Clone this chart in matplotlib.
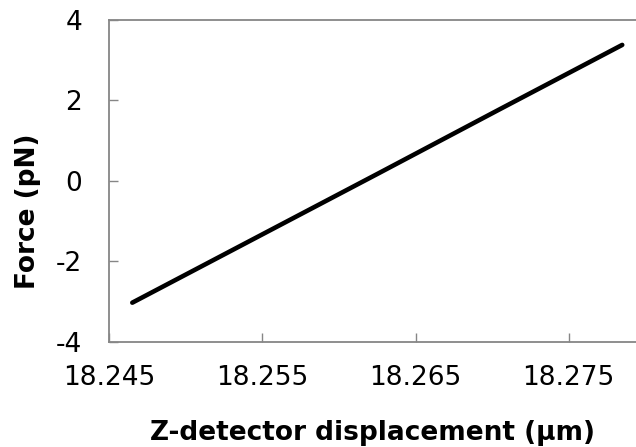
import matplotlib.pyplot as plt

# Force vs Z-detector displacement
z_um = [18.2465, 18.2545, 18.2625, 18.2705, 18.2785]
force_pN = [-3.03, -1.43, 0.17, 1.78, 3.38]

x_ticks = [18.245, 18.255, 18.265, 18.275]
y_ticks = [-4, -2, 0, 2, 4]

plt.rcParams['font.family'] = ['DejaVu Sans']
plt.rcParams['axes.unicode_minus'] = False

fig = plt.figure(figsize=(6.36, 4.47), dpi=100)
ax = fig.add_axes([0.1719, 0.2356, 1 - 0.1719, 0.9553 - 0.2356])

ax.plot(z_um, force_pN, color='black', linewidth=3.3, solid_capstyle='round')

ax.set_xlim(18.245, 18.2794)
ax.set_ylim(-4, 4)
ax.set_xticks(x_ticks)
ax.set_xticklabels([f"{v:.3f}" for v in x_ticks])
ax.set_yticks(y_ticks)

grey = '#868686'
for side in ['left', 'bottom', 'top']:
    ax.spines[side].set_color(grey)
    ax.spines[side].set_linewidth(1.3)
ax.spines['right'].set_visible(False)

ax.tick_params(axis='both', direction='in', length=6.5, width=1.0, color=grey,
               labelsize=19)
ax.tick_params(axis='x', pad=17)
ax.tick_params(axis='y', pad=19.5)

ax.set_xlabel("Z-detector displacement (µm)", fontsize=19, fontweight='bold')
ax.xaxis.set_label_coords(0.5, -0.3056)
ax.xaxis.label.set_va('baseline')
ax.set_ylabel("Force (pN)", fontsize=19, fontweight='bold')
ax.yaxis.set_label_coords(-0.1544, 0.404)
ax.yaxis.label.set_va('center')

fig.savefig('out.png', dpi=100)
